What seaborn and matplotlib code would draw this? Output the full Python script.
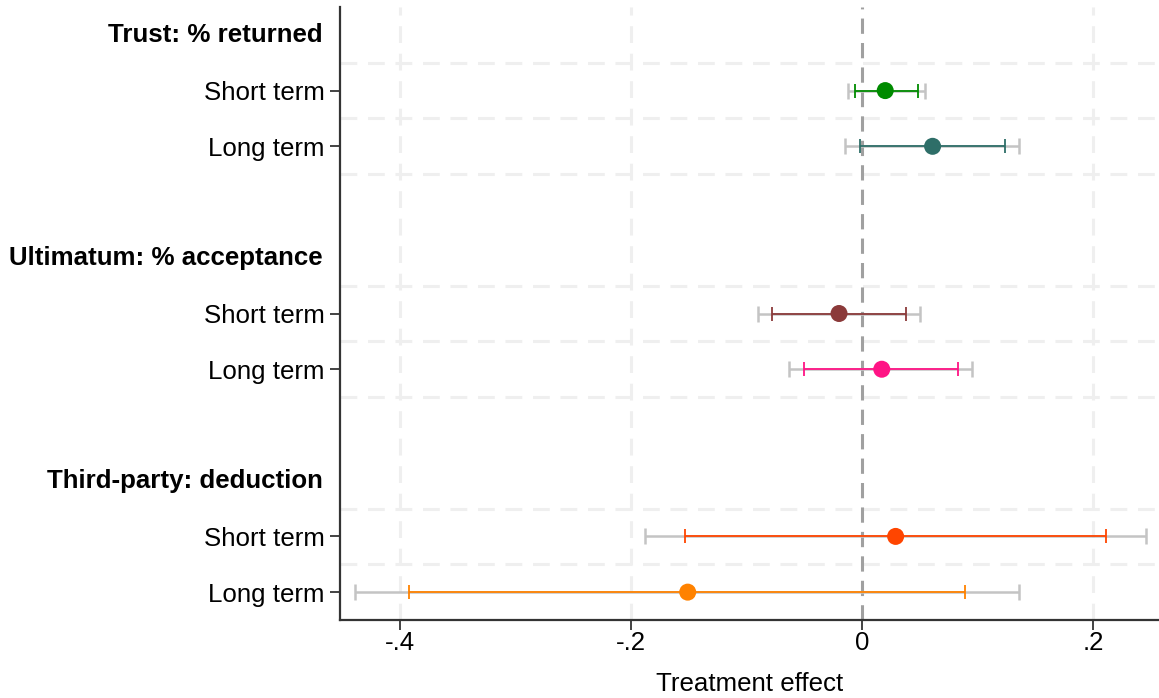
import matplotlib
matplotlib.use("Agg")
import matplotlib.pyplot as plt
import seaborn as sns
import pandas as pd
import numpy as np

# Game outcomes and horizons
groups = ["Trust: % returned", "Ultimatum: % acceptance", "Third-party: deduction"]
horizons = ["Short term", "Long term"]

# Point estimates, one per (group, horizon)
estimates = [0.020, 0.061, -0.020, 0.017, 0.029, -0.151]
# Narrow (90%) intervals
ci90_low = [-0.0065, -0.002, -0.078, -0.050, -0.153, -0.392]
ci90_high = [0.048, 0.124, 0.038, 0.083, 0.211, 0.089]
# Wide (95%) intervals
ci95_low = [-0.012, -0.015, -0.090, -0.063, -0.188, -0.439]
ci95_high = [0.054, 0.136, 0.050, 0.095, 0.246, 0.136]

colors = ["#008B00", "#2E6E68", "#8B3A3A", "#FF1485", "#FF4500", "#FF8200"]

x_ticks = [-0.4, -0.2, 0.0, 0.2]
x_tick_labels = ["-.4", "-.2", "0", ".2"]

# Row layout: each group gets a header row, two coefficient rows, and a spacer
rows, header_rows = [], []
pos = 1
for g in groups:
    header_rows.append(pos)
    rows.extend([pos + 1, pos + 2])
    pos += 4

df = pd.DataFrame({
    "group": np.repeat(groups, 2),
    "horizon": horizons * 3,
    "est": estimates,
    "lo90": ci90_low, "hi90": ci90_high,
    "lo95": ci95_low, "hi95": ci95_high,
    "row": rows,
})

sns.set_theme(style="white")
plt.rcParams["font.family"] = ["Liberation Sans", "DejaVu Sans"]
plt.rcParams["text.color"] = "black"
plt.rcParams["xtick.color"] = "black"
plt.rcParams["ytick.color"] = "black"
plt.rcParams["axes.labelcolor"] = "black"

FS = 18.6

fig = plt.figure(figsize=(11.59, 6.98), dpi=100)
ax = fig.add_axes([340 / 1159, 78 / 698, 819 / 1159, 613 / 698])

# Grid lines
grid_rows = []
for h in header_rows:
    grid_rows.extend([h + 0.5, h + 1.5, h + 2.5])
grid_rows = grid_rows[:-1]
for gy in grid_rows:
    ax.axhline(gy, color="#EFEFEF", lw=2.2, ls=(0, (5.5, 3.5)), zorder=0)
for xt in x_ticks:
    if xt != 0:
        ax.axvline(xt, color="#EFEFEF", lw=2.2, ls=(0, (5.5, 3.5)), zorder=0)
ax.axvline(0, color="#A0A0A0", lw=2.2, ls=(0, (5, 3)), zorder=1)

# Confidence intervals: wide grey first, narrow coloured on top
for _, r in df.iterrows():
    ax.errorbar(r["est"], r["row"],
                xerr=[[r["est"] - r["lo95"]], [r["hi95"] - r["est"]]],
                fmt="none", ecolor="#C4C4C4", elinewidth=1.8,
                capsize=5.5, capthick=1.8, zorder=2)
for (_, r), c in zip(df.iterrows(), colors):
    ax.errorbar(r["est"], r["row"],
                xerr=[[r["est"] - r["lo90"]], [r["hi90"] - r["est"]]],
                fmt="none", ecolor=c, elinewidth=1.3,
                capsize=5, capthick=1.3, zorder=3)

sns.scatterplot(data=df, x="est", y="row", hue="row", palette=colors,
                s=150, edgecolor="none", legend=False, ax=ax, zorder=4)

ax.set_xlim(-0.452, 0.257)
ax.set_ylim(11.5, 0.5)

ax.set_yticks(rows)
ax.set_yticklabels(df["horizon"].tolist(), fontsize=FS)
for h, g in zip(header_rows, groups):
    ax.text(-0.021, h, g, transform=ax.get_yaxis_transform(), ha="right",
            va="center", fontsize=FS, fontweight="bold")

ax.set_xticks(x_ticks)
ax.set_xticklabels(x_tick_labels, fontsize=FS)
ax.set_xlabel("Treatment effect", fontsize=FS, labelpad=12)
ax.set_ylabel("")

ax.tick_params(axis="x", which="major", direction="out", length=7,
               width=1.2, color="#222222", pad=1, bottom=True)
ax.tick_params(axis="y", which="major", direction="out", length=7,
               width=1.2, color="#222222", pad=4, left=True)

sns.despine(ax=ax, top=True, right=True)
for side in ["left", "bottom"]:
    ax.spines[side].set_color("#333333")
    ax.spines[side].set_linewidth(1.6)

fig.savefig("out.png", dpi=100)
